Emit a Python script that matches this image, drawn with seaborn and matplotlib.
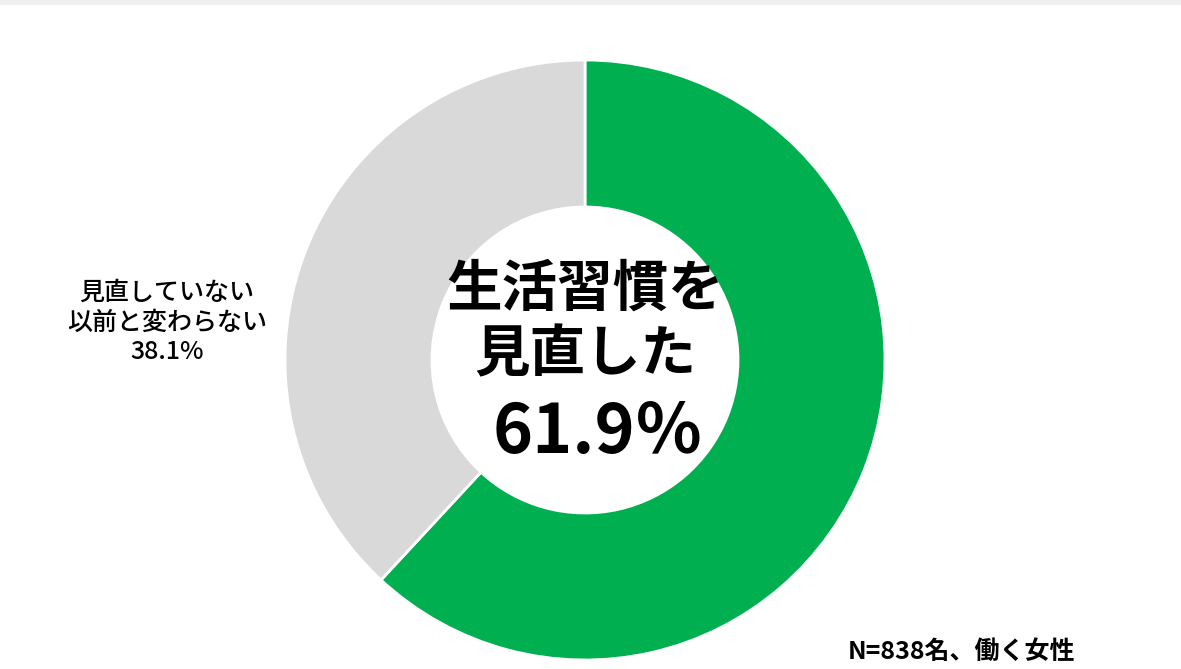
import matplotlib
matplotlib.use("Agg")
import matplotlib.pyplot as plt
import seaborn as sns
from matplotlib.patches import Rectangle

# データ
categories = ["見直した", "見直していない 以前と変わらない"]
values = [61.9, 38.1]
colors = ["#00B050", "#D9D9D9"]
center_lines = ["生活習慣を", "見直した"]
center_value = "61.9％"
side_label = ["見直していない", "以前と変わらない", "38.1%"]
note = "N=838名、働く女性"

sns.set_theme(style="white")
plt.rcParams["font.family"] = ["Noto Sans CJK JP", "DejaVu Sans"]

W, H = 1181, 669
fig = plt.figure(figsize=(W / 100, H / 100), dpi=100)
fig.patch.set_facecolor("white")

# 上部の薄いグレー帯
fig.patches.append(Rectangle((0, 1 - 5 / H), 1, 5 / H, transform=fig.transFigure,
                             facecolor="#F0F0F0", edgecolor="none"))

# ドーナツ(中心 x=585, y=360, 半径 300px)
cx, cy, r = 585, 360, 300
ax = fig.add_axes([(cx - r) / W, (H - cy - r) / H, 2 * r / W, 2 * r / H])
ax.pie(values, colors=colors, startangle=90, counterclock=False, radius=1,
       wedgeprops=dict(width=0.49, edgecolor="white", linewidth=2))
ax.set_xlim(-1, 1)
ax.set_ylim(-1, 1)
ax.set_aspect("equal")
ax.axis("off")

def fx(px):
    return px / W

def fy(py):
    return 1 - py / H

# 中央テキスト
fig.text(fx(585), fy(290), center_lines[0], ha="center", va="center",
         fontsize=40, fontweight="bold", color="black")
fig.text(fx(585), fy(355), center_lines[1], ha="center", va="center",
         fontsize=40, fontweight="bold", color="black")
fig.text(fx(598), fy(433), center_value, ha="center", va="center",
         fontsize=49, fontweight="bold", color="black")

# 左側ラベル
for i, line in enumerate(side_label):
    fig.text(fx(167), fy(293 + 29.5 * i), line, ha="center", va="center",
             fontsize=18, fontweight="medium", color="black")

# 注記
fig.text(fx(848), fy(652), note, ha="left", va="center",
         fontsize=18, fontweight="bold", color="black")

fig.savefig("out.png", dpi=100, facecolor="white")
